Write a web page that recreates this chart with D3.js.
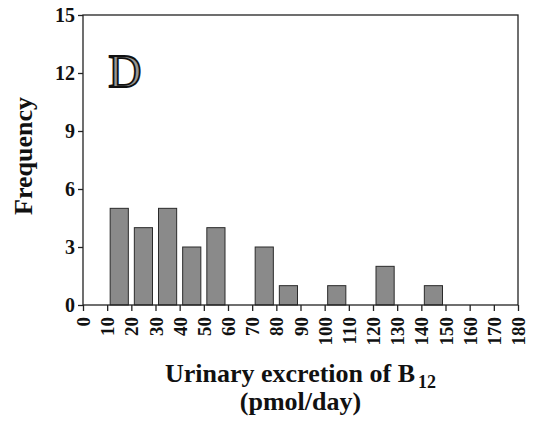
<!DOCTYPE html>
<html>
<head>
<meta charset="utf-8">
<script src="https://cdn.jsdelivr.net/npm/d3@7"></script>
<style>
  body { margin: 0; background: #fff; }
  text { font-family: "Liberation Serif", "Times New Roman", serif; font-weight: bold; fill: #111; }
</style>
</head>
<body>
<svg id="chart" width="535" height="427"></svg>
<script>
// histogram bins (pmol/day) and counts
var binStarts = [10, 20, 30, 40, 50, 70, 80, 100, 120, 140];
var counts = [5, 4, 5, 3, 4, 3, 1, 1, 2, 1];
var xTicks = [0, 10, 20, 30, 40, 50, 60, 70, 80, 90, 100, 110, 120, 130, 140, 150, 160, 170, 180];
var yTicks = [0, 3, 6, 9, 12, 15];

var margin = {top: 15, right: 17, bottom: 122, left: 83},
    width = 535 - margin.left - margin.right,
    height = 427 - margin.top - margin.bottom;

var svg = d3.select("#chart");
var g = svg.append("g").attr("transform", "translate(" + margin.left + "," + margin.top + ")");

var x = d3.scaleLinear().domain([0, 180]).range([0, width]);
var y = d3.scaleLinear().domain([0, 15]).range([height, 0]);

var binW = x(10) - x(0);
var inset = 3;

// bars
g.selectAll("rect.bar")
    .data(binStarts)
    .enter().append("rect")
    .attr("class", "bar")
    .attr("x", function (d) { return x(d) + inset; })
    .attr("width", binW - 2 * inset)
    .attr("y", function (d, i) { return y(counts[i]); })
    .attr("height", function (d, i) { return height - y(counts[i]); })
    .attr("fill", "#8a8a8a")
    .attr("stroke", "#2a2a2a")
    .attr("stroke-width", 1);

// frame
g.append("rect")
    .attr("width", width).attr("height", height)
    .attr("fill", "none").attr("stroke", "#222").attr("stroke-width", 1.3);

// y axis
var yAxis = g.append("g")
    .call(d3.axisLeft(y).tickValues(yTicks).tickSize(5).tickPadding(3));
yAxis.select(".domain").remove();
yAxis.selectAll("line").attr("stroke", "#222").attr("stroke-width", 1.3);
yAxis.selectAll("text").style("font-size", "20px").attr("font-family", null);

// x axis
var xAxis = g.append("g")
    .attr("transform", "translate(0," + height + ")")
    .call(d3.axisBottom(x).tickValues(xTicks).tickSize(6));
xAxis.select(".domain").remove();
xAxis.selectAll("line").attr("stroke", "#222").attr("stroke-width", 1.3);
xAxis.selectAll("text")
    .style("font-size", "19px")
    .attr("font-family", null)
    .attr("transform", "rotate(-90)")
    .attr("text-anchor", "end")
    .attr("x", -12)
    .attr("y", 0)
    .attr("dy", "0.35em");

// panel letter
g.append("text")
    .attr("x", x(10) + 1)
    .attr("y", y(11.3))
    .style("font-size", "46px")
    .style("font-weight", "normal")
    .style("fill", "#959595")
    .style("stroke", "#111")
    .style("stroke-width", 1.8)
    .text("D");

// y label
svg.append("text")
    .attr("transform", "translate(32," + (margin.top + 141) + ") rotate(-90)")
    .attr("text-anchor", "middle")
    .style("font-size", "26px")
    .text("Frequency");

// x label
var xl = svg.append("text")
    .attr("x", margin.left + width / 2)
    .attr("y", 382)
    .attr("text-anchor", "middle")
    .style("font-size", "26px");
xl.append("tspan").text("Urinary excretion of B");
xl.append("tspan").attr("dx", 3).attr("dy", 6).style("font-size", "18px").text("12");

svg.append("text")
    .attr("x", margin.left + width / 2)
    .attr("y", 410)
    .attr("text-anchor", "middle")
    .style("font-size", "26px")
    .text("(pmol/day)");
</script>
</body>
</html>
